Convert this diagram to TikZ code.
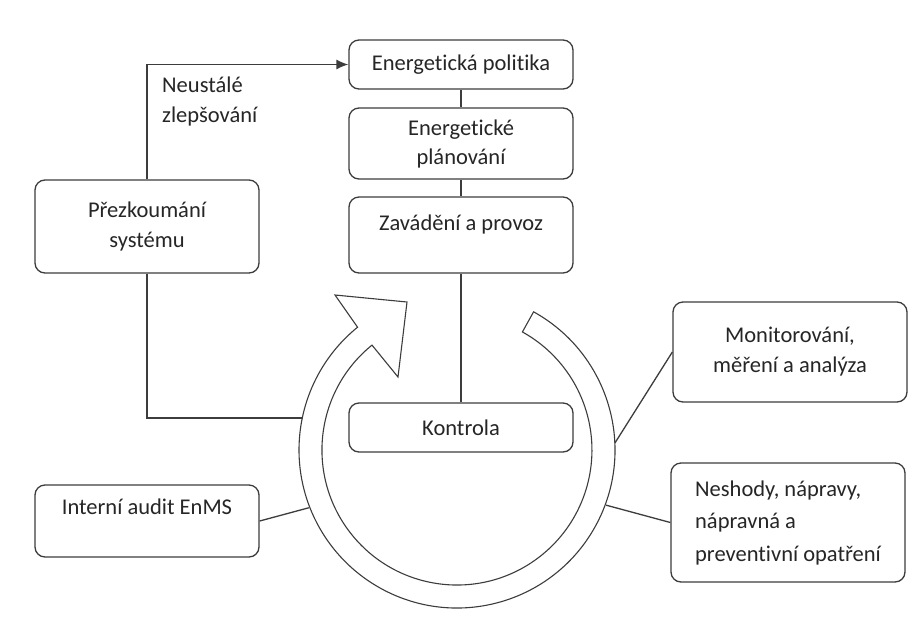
\documentclass[tikz,border=0pt]{standalone}
\usepackage{fontspec}
\setmainfont{Carlito}[Ligatures=NoCommon]
\usetikzlibrary{arrows.meta}
\definecolor{ln}{HTML}{3C3C3C}
\definecolor{tx}{HTML}{262626}
\begin{document}
\begin{tikzpicture}[x=1pt,y=1pt,
  font=\fontsize{22.5}{30}\selectfont, text=tx,
  box/.style={draw=ln, line width=1.3pt, rounded corners=10pt, fill=white,
    inner sep=0pt, align=center},
  conn/.style={draw=ln, line width=1.3pt}]
\useasboundingbox (0,0) rectangle (914,-633);
\fill[white] (0,0) rectangle (914,-633);

% ring with arrow
\coordinate (O) at (457,-450);
\draw[ln, line width=1.1pt, fill=white]
  (O) ++(61:158) arc[start angle=61, end angle=-231, radius=158]
  -- (335,-295) -- (407,-302) -- (398,-377) -- (372,-345.1)
  arc[start angle=-231, end angle=61, radius=135] -- cycle;
\path (O) ++(168.3:158) coordinate (rA);
\path (O) ++(201.3:159) coordinate (rB);
\path (O) ++(2.5:158) coordinate (rC);
\path (O) ++(-20.3:159) coordinate (rD);

% boxes
\node[box, minimum width=224pt, minimum height=49pt] (pol) at (461,-64.5) {Energetická politika};
\node[box, minimum width=224pt, minimum height=71pt] (plan) at (461,-143.5) {Energetické\\[-1pt]plánování};
\node[box, minimum width=224pt, text height=33pt, text depth=43pt] (zav) at (461,-235) {Zavádění a provoz};
\node[box, minimum width=224pt, minimum height=49pt] (kon) at (461,-427.5) {Kontrola};
\node[box, minimum width=224pt, minimum height=93pt] (prez) at (147,-226.5) {Přezkoumání\\systému};
\node[box, minimum width=224pt, text height=29pt, text depth=43pt] (aud) at (147,-521) {Interní audit EnMS};
\node[box, minimum width=234pt, minimum height=100pt] (mon) at (790,-352) {Monitorování,\\měření a analýza};
\node[box, minimum width=234pt, minimum height=119pt, align=left,
  font=\fontsize{22.5}{32.5}\selectfont] (nes) at (788,-522.5)
  {Neshody, nápravy,\\nápravná a\\preventivní opatření};

% connectors
\draw[conn, -{Latex[length=12pt,width=10pt]}] (prez.north) -- (prez.north |- pol.west) -- (pol.west);
\node[anchor=base west, align=left, inner sep=0pt] (lbl) at (162,-122) {Neustálé\\zlepšování};
\draw[conn] (pol.south) -- (plan.north);
\draw[conn] (plan.south) -- (zav.north);
\draw[conn] (zav.south) -- (kon.north);
\draw[conn] (prez.south) |- (rA);
\draw[conn] (aud.east) -- (rB);
\draw[conn] (rC) -- (mon.west);
\draw[conn] (rD) -- (nes.west);
\end{tikzpicture}
\end{document}
